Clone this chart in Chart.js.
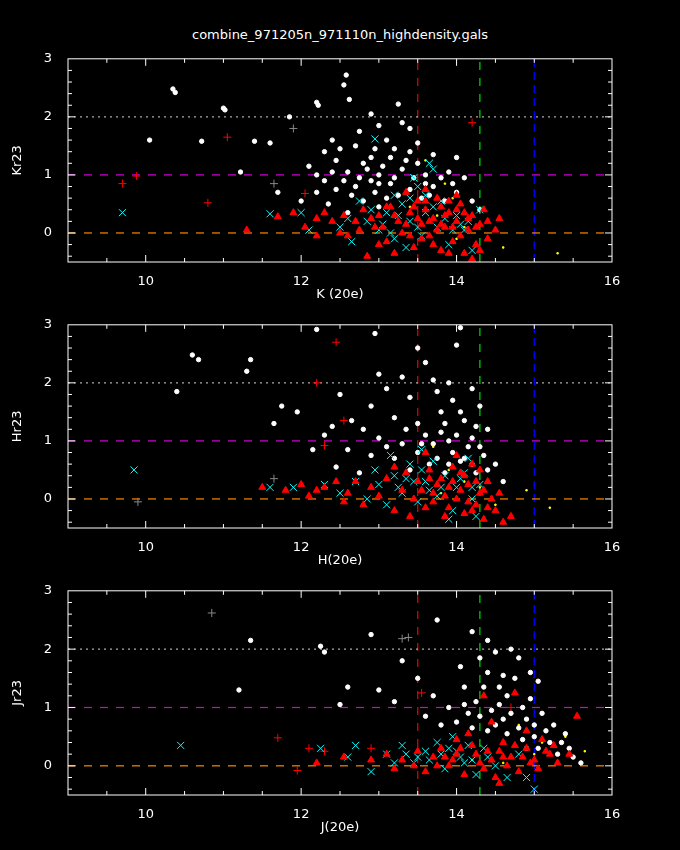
<!DOCTYPE html>
<html>
<head>
<meta charset="utf-8">
<script src="https://cdn.jsdelivr.net/npm/chart.js@4.4.1/dist/chart.umd.min.js"></script>
<style>
  body { margin: 0; background: #000; width: 680px; height: 850px; overflow: hidden; }
  #title { position: absolute; top: 27px; left: 0; width: 680px; text-align: center;
           color: #fff; font: 13px "DejaVu Sans", sans-serif; }
  canvas { position: absolute; left: 0; }
</style>
</head>
<body>
<div id="title">combine_971205n_971110n_highdensity.gals</div>
<canvas id="c1"></canvas>
<canvas id="c2"></canvas>
<canvas id="c3"></canvas>
<script>
const xTicks = [10, 12, 14, 16]
const yTicks = [0, 1, 2, 3]

// K panel
const kWhite = [[10.35,2.48],[10.38,2.42],[11.0,2.15],[11.02,2.12],[10.05,1.6],[10.72,1.58],[11.4,1.58],[11.6,1.55],[11.22,1.05],[11.85,2.0],[12.2,2.25],[12.22,2.2],[12.58,2.72],[12.55,2.55],[12.62,2.3],[12.9,2.05],[13.25,2.22],[13.0,1.85],[12.75,1.75],[12.4,1.6],[13.3,1.9],[13.4,1.8],[13.1,1.6],[12.3,1.4],[12.5,1.45],[12.7,1.5],[12.9,1.3],[13.2,1.45],[13.5,1.55],[13.7,1.35],[14.0,1.3],[12.1,1.15],[12.3,0.9],[12.6,1.05],[12.8,1.2],[13.0,1.0],[13.3,1.1],[13.6,1.0],[13.9,1.05],[14.1,0.95],[12.2,0.7],[12.45,0.75],[12.7,0.8],[12.95,0.7],[13.15,0.85],[13.4,0.75],[13.7,0.8],[14.0,0.7],[14.2,0.55],[12.0,0.55],[12.35,0.5],[12.8,0.55],[13.1,0.6],[13.55,0.6],[13.85,0.55],[11.7,0.7],[12.6,0.35],[13.0,0.45],[14.3,0.4],[13.35,1.25],[12.45,1.25],
  [12.85,1.1],[13.05,1.15],[13.2,0.95],[13.45,0.95],[13.5,1.2],[13.25,0.65],[13.6,0.85],[13.8,0.95],[12.55,0.9],[12.75,0.95],[13.0,0.85],[12.4,1.05],[12.95,1.45],[13.15,1.3],[13.4,1.4],[12.2,1.0],[13.65,0.65],[13.95,0.85],[12.65,0.65],[12.9,0.9]]
const kRedTri = [[11.3,0.05],[11.7,0.28],[11.9,0.35],[12.05,0.1],[12.2,0.25],[12.3,0.35],[12.4,0.2],[12.55,0.3],[12.6,-0.05],[12.7,0.2],[12.8,0.4],[12.85,-0.4],[12.95,0.1],[13.0,0.3],[13.1,-0.15],[13.15,0.45],[13.25,0.2],[13.3,0.0],[13.4,0.35],[13.45,-0.25],[13.5,0.55],[13.55,0.15],[13.6,0.4],[13.65,-0.05],[13.7,0.25],[13.75,0.6],[13.8,-0.3],[13.85,0.1],[13.9,0.35],[13.95,-0.15],[14.0,0.2],[14.05,0.5],[14.1,-0.35],[14.15,0.05],[14.2,0.3],[14.25,-0.2],[14.3,0.15],[14.35,0.4],[14.4,-0.1],[14.5,0.05],[14.55,0.25],[13.35,0.7],[13.6,0.75],[14.0,0.65],[13.2,-0.35],[12.5,0.0],[13.0,-0.2],[14.2,-0.45],[13.9,0.55],[12.2,-0.05],[13.8,0.45],[14.1,0.35],
  [13.05,0.1],[13.2,0.3],[13.35,0.15],[13.45,0.45],[13.55,-0.1],[13.65,0.2],[13.75,0.05],[13.85,0.3],[13.95,0.1],[14.05,-0.05],[14.15,0.25],[14.25,0.1],[13.4,-0.05],[13.7,-0.2],[13.9,-0.35],[14.3,-0.3],[12.9,0.25],[13.1,0.45],[13.6,0.55],[14.0,0.4],[14.4,0.2],[12.75,0.05],[13.5,0.25],[13.8,0.15]]
const kCyan = [[9.7,0.35],[11.6,0.33],[12.0,0.35],[12.1,0.05],[12.5,0.1],[12.95,1.62],[12.65,-0.15],[12.85,0.2],[13.0,0.05],[13.1,0.35],[13.2,-0.1],[13.3,0.5],[13.4,0.2],[13.5,0.8],[13.55,-0.05],[13.6,0.35],[13.7,1.1],[13.75,0.1],[13.8,0.55],[13.9,-0.2],[14.0,0.3],[14.1,0.05],[14.2,-0.3],[14.3,0.4],[13.2,0.65],[13.45,0.95],[12.75,0.55],[13.65,1.2],[14.15,0.2],[13.35,-0.25],
  [12.9,0.4],[13.05,0.15],[13.25,0.3],[13.4,0.6],[13.5,0.1],[13.6,0.65],[13.7,0.45],[13.85,0.25],[13.95,0.05],[14.05,0.15],[13.15,0.0],[12.6,0.25]]
const kRedPlus = [[9.7,0.85],[9.88,0.98],[10.8,0.52],[11.05,1.65],[12.05,0.68],[14.2,1.9]]
const kGreyPlus = [[11.65,0.85],[11.9,1.8]]
const kYellow = [[13.6,1.25],[13.85,0.85],[14.2,0.3],[14.6,-0.25],[15.3,-0.35],[13.4,0.45],[14.0,-0.1],[13.75,0.3],[13.95,0.6],[14.1,0.1]]

// H panel
const hWhite = [[10.6,2.48],[10.68,2.4],[11.35,2.4],[11.3,2.2],[10.4,1.85],[11.65,1.3],[11.95,1.5],[11.75,1.6],[12.5,1.8],[12.3,1.1],[12.2,2.92],[12.9,1.6],[12.95,2.85],[13.0,2.15],[13.1,1.9],[13.3,2.1],[13.5,2.6],[13.6,2.35],[13.7,2.05],[13.75,1.85],[13.9,2.0],[14.0,2.65],[14.05,2.95],[13.4,1.75],[14.2,1.9],[14.3,1.6],[13.2,1.4],[13.5,1.3],[13.8,1.5],[14.1,1.35],[14.4,1.2],[12.8,1.2],[13.0,1.05],[13.3,0.95],[13.6,1.1],[13.9,1.0],[14.15,0.9],[14.35,0.75],[12.6,0.85],[12.9,0.75],[13.2,0.7],[13.5,0.8],[13.75,0.7],[14.05,0.65],[14.25,0.45],[12.45,0.55],[12.75,0.45],[13.4,0.5],[13.85,0.45],[12.65,1.35],[12.15,0.85],[12.4,1.25],[14.5,0.6],[14.6,0.3],
  [13.7,0.95],[13.8,1.15],[13.95,0.8],[14.0,1.1],[14.1,0.7],[14.2,1.05],[14.3,0.9],[13.65,0.6],[13.9,0.6],[14.2,0.6],[13.55,0.95],[14.4,0.5],[13.85,1.3],[14.25,1.25],[13.1,0.9],[13.35,1.2],[14.05,1.5],[13.95,1.7]]
const hRedTri = [[11.5,0.2],[11.8,0.15],[12.0,0.25],[12.1,0.05],[12.3,0.2],[12.45,0.3],[12.6,0.1],[12.7,0.3],[12.8,-0.1],[12.9,0.2],[13.0,0.05],[13.1,0.35],[13.2,-0.2],[13.3,0.15],[13.35,0.45],[13.45,0.0],[13.5,0.3],[13.6,-0.15],[13.65,0.5],[13.7,0.1],[13.8,0.35],[13.85,-0.3],[13.9,0.2],[14.0,0.0],[14.05,0.45],[14.1,-0.25],[14.15,0.25],[14.2,0.6],[14.25,-0.1],[14.3,0.1],[14.35,-0.35],[14.45,0.0],[14.5,-0.2],[14.6,-0.4],[14.7,-0.3],[14.0,0.75],[13.6,0.8],[13.2,0.55],[12.55,-0.05],[13.95,0.55],[14.4,0.3],[13.4,-0.3],[14.55,0.1],[12.2,0.15],
  [13.75,0.25],[13.85,0.05],[13.95,0.3],[14.05,0.15],[14.15,-0.05],[14.25,0.3],[14.35,0.15],[13.55,0.15],[13.7,-0.05],[14.1,0.4],[14.2,-0.2],[14.4,-0.15],[13.9,-0.15],[14.3,0.5],[13.65,0.35]]
const hCyan = [[9.85,0.5],[11.6,0.2],[11.9,0.2],[12.3,0.25],[12.5,0.1],[12.7,0.3],[12.85,0.0],[13.0,0.25],[13.1,-0.1],[13.2,0.4],[13.3,0.1],[13.4,0.6],[13.5,-0.05],[13.6,0.3],[13.7,0.65],[13.75,0.05],[13.85,0.4],[13.95,-0.2],[14.0,0.2],[14.1,0.45],[14.2,0.0],[14.3,0.25],[13.15,0.75],[13.55,0.85],[14.15,0.7],[13.9,-0.35],[14.25,-0.3],[12.95,0.5],
  [13.45,0.3],[13.65,0.15],[13.8,0.2],[14.05,0.35],[13.35,0.35],[13.55,0.5],[14.2,0.2],[13.25,0.2]]
const hRedPlus = [[12.2,2.0],[12.45,2.7],[12.3,0.92],[12.55,1.35]]
const hGreyPlus = [[11.65,0.35],[9.9,-0.05]]
const hYellow = [[13.7,0.9],[14.3,0.2],[14.5,-0.1],[14.9,0.15],[15.2,-0.15],[13.9,0.5],[14.1,0.3],[13.8,0.1]]

// J panel
const jWhite = [[11.35,2.15],[11.2,1.3],[12.25,2.05],[12.3,1.95],[12.5,1.05],[12.6,1.35],[12.9,2.25],[13.0,1.3],[13.3,1.8],[13.75,2.5],[13.5,1.5],[13.7,1.2],[13.9,1.0],[14.05,1.7],[14.1,1.35],[14.2,2.3],[14.3,1.85],[14.4,2.15],[14.5,1.95],[14.6,1.55],[14.7,2.0],[14.8,1.85],[14.95,1.6],[15.05,1.45],[14.25,1.1],[14.45,0.95],[14.65,1.2],[14.85,1.0],[15.1,0.9],[15.25,0.7],[15.4,0.55],[13.8,0.7],[14.0,0.75],[14.2,0.65],[14.4,0.6],[14.6,0.8],[14.8,0.65],[15.0,0.5],[15.2,0.4],[15.45,0.3],[15.6,0.05],[13.6,0.85],[14.1,1.05],[14.55,1.05],[15.3,0.2],[13.2,1.1],[14.9,0.3],[15.5,0.15],
  [14.3,0.85],[14.5,0.7],[14.7,0.9],[14.9,0.8],[15.0,0.7],[15.15,0.6],[14.35,1.35],[14.55,1.35],[14.75,1.5],[14.65,0.55],[14.85,0.45],[15.05,0.3],[14.15,0.9],[14.4,1.6],[15.35,0.4],[14.95,1.15]]
const jRedTri = [[12.2,0.05],[12.55,0.15],[12.9,0.1],[13.1,0.2],[13.3,0.1],[13.5,0.25],[13.6,-0.1],[13.7,0.15],[13.8,0.3],[13.9,0.0],[14.0,0.2],[14.1,-0.15],[14.2,0.35],[14.3,0.05],[14.4,0.25],[14.5,-0.2],[14.6,0.4],[14.7,0.15],[14.8,-0.1],[14.9,0.3],[15.0,0.1],[15.1,0.45],[15.2,0.2],[15.3,0.05],[15.45,0.2],[15.55,0.85],[14.35,1.2],[14.75,1.25],[14.45,0.75],[14.0,0.45],[13.45,0.0],[14.55,-0.3],[14.9,0.6],[15.05,-0.05],[13.2,-0.05],[14.15,0.55],
  [13.95,0.1],[14.05,0.3],[14.25,0.2],[14.35,-0.05],[14.45,0.1],[14.55,0.25],[14.65,0.0],[14.75,0.35],[14.85,0.15],[14.95,0.05],[15.15,0.25],[13.75,0.0],[13.85,0.15],[14.6,0.15],[15.25,0.35]]
const jCyan = [[10.45,0.35],[12.25,0.3],[12.7,0.35],[12.9,-0.1],[13.1,0.2],[13.3,0.35],[13.45,0.05],[13.6,0.25],[13.75,0.4],[13.85,-0.05],[14.0,0.25],[14.1,0.05],[14.25,-0.15],[14.35,0.3],[14.5,0.0],[14.65,-0.2],[14.8,0.2],[15.0,-0.4],[14.9,-0.2],[13.95,0.5],[12.6,0.15],[13.2,0.05],
  [13.5,0.15],[13.65,0.1],[13.8,0.2],[13.9,0.3],[14.05,0.15],[14.2,0.1],[14.4,0.15],[13.35,0.2],[14.15,0.35]]
const jRedPlus = [[11.7,0.48],[11.95,-0.08],[12.1,0.3],[12.3,0.25],[12.9,0.3],[13.55,1.25],[14.7,1.0]]
const jGreyPlus = [[10.85,2.62],[13.3,2.18],[13.38,2.2]]
const jYellow = [[14.2,0.1],[14.8,0.7],[15.1,0.4],[15.65,0.25],[15.4,0.5],[13.8,0.3],[14.6,0.05],[15.0,0.2]]

const frame = {
  id: 'frame',
  afterDraw(chart) {
    const { ctx, chartArea: a, scales } = chart
    ctx.save()
    ctx.strokeStyle = '#fff'
    ctx.lineWidth = 1
    ctx.strokeRect(a.left, a.top, a.right - a.left, a.bottom - a.top)
    ctx.beginPath()
    for (let v = 9.5; v < 16; v += 0.5) {
      const px = scales.x.getPixelForValue(v)
      const len = Number.isInteger(v / 2) ? 7 : 4
      ctx.moveTo(px, a.bottom); ctx.lineTo(px, a.bottom - len)
      ctx.moveTo(px, a.top); ctx.lineTo(px, a.top + len)
    }
    for (let v = -0.4; v < 3; v += 0.2) {
      const py = scales.y.getPixelForValue(v)
      const len = Math.abs(v - Math.round(v)) < 0.01 ? 7 : 4
      ctx.moveTo(a.left, py); ctx.lineTo(a.left + len, py)
      ctx.moveTo(a.right, py); ctx.lineTo(a.right - len, py)
    }
    ctx.stroke()
    ctx.restore()
  }
}

function hline(y, color, dash) {
  return { type: 'line', data: [{x: 9, y: y}, {x: 16, y: y}], borderColor: color,
    borderWidth: 1.2, borderDash: dash, pointRadius: 0, order: 10 }
}
function vline(x, color, dash) {
  return { type: 'line', data: [{x: x, y: -0.5}, {x: x, y: 3}], borderColor: color,
    borderWidth: 1.3, borderDash: dash, pointRadius: 0, order: 10 }
}
function pts(data, style, color, r) {
  return { data: data.map(p => ({x: p[0], y: p[1]})), pointStyle: style, pointRadius: r,
    backgroundColor: color, borderColor: color, borderWidth: 1, order: 1 }
}

function makePanel(id, plotTop, plotBottom, xTitle, yTitle, s) {
  const canvas = document.getElementById(id)
  const h = plotBottom - plotTop + 12 + 40
  canvas.style.top = (plotTop - 12) + 'px'
  canvas.width = 680
  canvas.height = h
  const font = { family: 'DejaVu Sans', size: 13 }
  new Chart(canvas, {
    type: 'scatter',
    data: {
      datasets: [
        hline(2, '#aaa', [2, 4]),
        hline(1, '#d0d', [8, 8]),
        hline(0, '#f80', [8, 8]),
        vline(13.5, '#d00', [8, 8]),
        vline(14.3, '#0c0', [8, 8]),
        vline(15.0, '#00f', [8, 5]),
        pts(s.tri, 'triangle', '#f00', 4),
        pts(s.cyan, 'crossRot', '#0ff', 5),
        pts(s.white, 'circle', '#fff', 2.2),
        pts(s.redPlus, 'cross', '#f00', 4),
        pts(s.greyPlus, 'cross', '#888', 4),
        pts(s.yellow, 'rect', '#ff0', 1)
      ]
    },
    options: {
      responsive: false,
      animation: false,
      layout: { padding: { top: 12, right: 68, left: 0, bottom: 0 } },
      plugins: { legend: { display: false }, tooltip: { enabled: false } },
      scales: {
        x: {
          min: 9, max: 16,
          afterBuildTicks: axis => { axis.ticks = xTicks.map(v => ({ value: v })) },
          afterFit: axis => { axis.height = 40 },
          grid: { display: false },
          border: { display: false },
          ticks: { color: '#fff', font: font, padding: 4, maxRotation: 0 },
          title: { display: true, text: xTitle, color: '#fff', font: font, padding: 0 }
        },
        y: {
          min: -0.5, max: 3,
          afterBuildTicks: axis => { axis.ticks = yTicks.map(v => ({ value: v })) },
          afterFit: axis => { axis.width = 68 },
          grid: { display: false },
          border: { display: false },
          ticks: { color: '#fff', font: font, padding: 8 },
          title: { display: true, text: yTitle, color: '#fff', font: font, padding: { top: 10, bottom: 0 } }
        }
      }
    },
    plugins: [frame]
  })
}

makePanel('c1', 55, 262, 'K (20e)', 'Kr23',
  { white: kWhite, tri: kRedTri, cyan: kCyan, redPlus: kRedPlus, greyPlus: kGreyPlus, yellow: kYellow })
makePanel('c2', 321, 528, 'H(20e)', 'Hr23',
  { white: hWhite, tri: hRedTri, cyan: hCyan, redPlus: hRedPlus, greyPlus: hGreyPlus, yellow: hYellow })
makePanel('c3', 587, 795, 'J(20e)', 'Jr23',
  { white: jWhite, tri: jRedTri, cyan: jCyan, redPlus: jRedPlus, greyPlus: jGreyPlus, yellow: jYellow })
</script>
</body>
</html>
